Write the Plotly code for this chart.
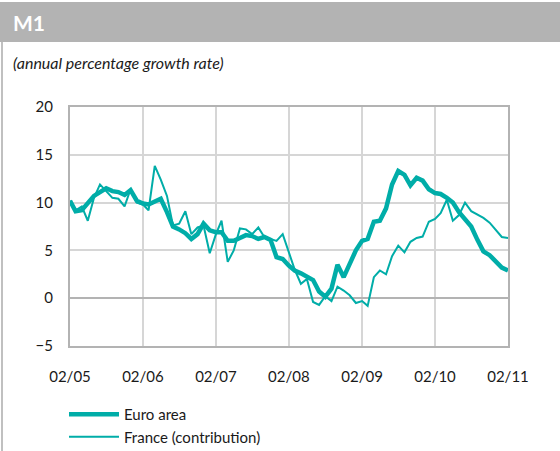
import pandas as pd
import plotly.graph_objects as go

# ---- data (monthly, Feb 2005 .. Feb 2011) ----
months = pd.date_range("2005-02-01", "2011-02-01", freq="MS")

euro_area = [
    10.2, 9.1, 9.2, 9.9, 10.7, 11.1, 11.5, 11.2, 11.1, 10.8, 11.3, 10.2,
    9.9, 9.8, 10.1, 10.4, 9.0, 7.5, 7.2, 6.8, 6.2, 6.7, 7.8, 7.1,
    6.9, 6.9, 6.0, 6.0, 6.3, 6.6, 6.5, 6.2, 6.4, 6.1, 4.3, 4.1,
    3.4, 2.9, 2.6, 2.3, 1.9, 0.7, 0.15, 1.0, 3.5, 2.2, 3.6, 5.0,
    6.0, 6.2, 8.0, 8.1, 9.4, 11.9, 13.3, 12.9, 11.8, 12.6, 12.3, 11.4,
    11.0, 10.9, 10.5, 10.0, 9.0, 8.2, 7.5, 6.1, 4.9, 4.5, 3.9, 3.2,
    2.9,
]

france_contribution = [
    10.2, 9.2, 9.6, 8.1, 10.5, 11.9, 11.2, 10.5, 10.4, 9.6, 11.4, 10.0,
    9.8, 9.2, 13.85, 12.4, 10.7, 7.6, 7.8, 9.1, 6.7, 7.4, 7.6, 4.7,
    6.7, 8.1, 3.8, 5.0, 7.3, 7.2, 6.7, 7.4, 6.4, 6.2, 6.0, 6.7,
    4.7, 3.0, 1.5, 2.0, -0.4, -0.7, 0.2, -0.3, 1.2, 0.8, 0.3, -0.5,
    -0.3, -0.8, 2.2, 2.9, 2.5, 4.4, 5.5, 4.8, 5.9, 6.3, 6.45, 8.0,
    8.3, 8.9, 10.3, 8.1, 8.7, 10.0, 9.1, 8.7, 8.4, 7.9, 7.2, 6.4,
    6.3,
]

tick_dates = pd.date_range("2005-02-01", "2011-02-01", freq="12MS")
tick_labels = ["02/05", "02/06", "02/07", "02/08", "02/09", "02/10", "02/11"]
y_ticks = [-5, 0, 5, 10, 15, 20]

# ---- layout constants (pixels) ----
W, H = 560, 451
L, R, T, B = 70, 52, 107, 105
PW, PH = W - L - R, H - T - B
TEAL = "#00ADA8"
FONT = "Lato"


def px_x(x):
    return (x - L) / PW


def px_y(y):
    return (H - B - y) / PH


fig = go.Figure()
fig.add_trace(go.Scatter(x=months, y=euro_area, mode="lines", name="Euro area",
                         line=dict(color=TEAL, width=4.5)))
fig.add_trace(go.Scatter(x=months, y=france_contribution, mode="lines",
                         name="France (contribution)",
                         line=dict(color=TEAL, width=2)))

fig.update_layout(
    width=W, height=H,
    margin=dict(l=L, r=R, t=T, b=B, autoexpand=False),
    paper_bgcolor="white", plot_bgcolor="white",
    font=dict(family=FONT, size=15, color="#1a1a1a"),
    showlegend=True,
    legend=dict(x=px_x(64), y=px_y(398), xanchor="left", yanchor="top",
                font=dict(size=15), bgcolor="rgba(0,0,0,0)",
                tracegroupgap=0, itemwidth=50),
    shapes=[
        dict(type="rect", xref="paper", yref="paper",
             x0=px_x(0), x1=px_x(W), y0=px_y(2), y1=px_y(42),
             fillcolor="#b3b3b3", line=dict(width=0), layer="below"),
        dict(type="line", xref="paper", yref="paper",
             x0=px_x(2), x1=px_x(2), y0=px_y(42), y1=px_y(H),
             line=dict(color="#c0c0c0", width=2)),
    ],
    annotations=[
        dict(text="<b>M1</b>", xref="paper", yref="paper",
             x=px_x(11), y=px_y(22), xanchor="left", yanchor="middle",
             showarrow=False, font=dict(size=21, color="white", family=FONT)),
        dict(text="<i>(annual percentage growth rate)</i>", xref="paper", yref="paper",
             x=px_x(11), y=px_y(62), xanchor="left", yanchor="middle",
             showarrow=False, font=dict(size=16, color="#1a1a1a", family=FONT)),
    ],
)

fig.update_xaxes(
    range=[months[0], months[-1]],
    tickvals=tick_dates, ticktext=tick_labels,
    showgrid=True, gridcolor="#d6d6d6", gridwidth=1.5,
    showline=True, mirror=True, linecolor="#b3b3b3", linewidth=2,
    ticks="", ticklabelstandoff=16, tickfont=dict(size=15),
)
fig.update_yaxes(
    range=[-5, 20], tickvals=y_ticks,
    showgrid=True, gridcolor="#d6d6d6", gridwidth=1.5,
    zeroline=True, zerolinecolor="#b3b3b3", zerolinewidth=2,
    showline=True, mirror=True, linecolor="#b3b3b3", linewidth=2,
    ticks="", ticklabelstandoff=12, tickfont=dict(size=15),
)

fig.write_html("out.html", config={"displayModeBar": False},
               post_script="document.body.style.margin='0';document.body.style.overflow='hidden';")
